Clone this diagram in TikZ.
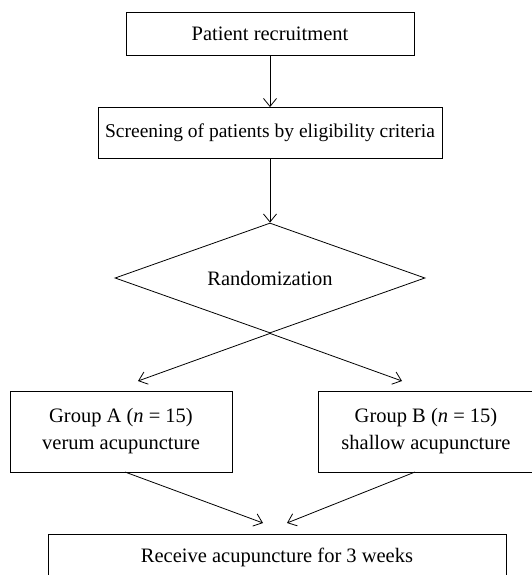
\documentclass[tikz,border=0pt]{standalone}
\usepackage{fontspec}
\setmainfont{Liberation Serif}
\usetikzlibrary{shapes.geometric,arrows.meta}
\begin{document}
\begin{tikzpicture}[x=1pt,y=-1pt,
  box/.style={draw,line width=0.8pt,inner sep=0pt,align=center,
    font=\fontsize{20.5}{27}\selectfont},
  decision/.style={draw,line width=0.8pt,diamond,inner sep=0pt,aspect=2.818,
    minimum width=310pt,minimum height=110pt,font=\fontsize{20.5}{27}\selectfont},
  arr/.style={line width=0.8pt,-{Straight Barb[length=8pt,width=13pt]}}]
\useasboundingbox (0,0) rectangle (532,575);
\node[box,minimum width=288pt,minimum height=43pt] (b1) at (270,33.5) {Patient recruitment};
\node[box,minimum width=344pt,minimum height=51pt,font=\fontsize{19.5}{27}\selectfont] (b2) at (270,133) {Screening of patients by eligibility criteria};
\node[decision] (dia) at (270,278) {Randomization};
\node[box,minimum width=222pt,minimum height=81pt] (ga) at (121,431.5) {Group A (\textit{n} = 15)\\verum acupuncture};
\node[box,minimum width=216pt,minimum height=81pt] (gb) at (426,431.5) {Group B (\textit{n} = 15)\\shallow acupuncture};
\node[box,minimum width=458pt,minimum height=50pt,anchor=north] (rc) at (277,534) {};
\node[font=\fontsize{20.5}{27}\selectfont] (rct) at (277,557) {Receive acupuncture for 3 weeks};
\coordinate (ta) at (138,381);
\coordinate (tb) at (402,381);
\coordinate (ja) at (263,523);
\coordinate (jb) at (287,523);
\coordinate (sa) at (125,472);
\coordinate (sb) at (415,472);
\draw[arr] (b1.south) -- (b2.north);
\draw[arr] (b2.south) -- (dia.north);
\draw[arr] (dia.south) -- (ta);
\draw[arr] (dia.south) -- (tb);
\draw[arr] (sa) -- (ja);
\draw[arr] (sb) -- (jb);
\end{tikzpicture}
\end{document}
